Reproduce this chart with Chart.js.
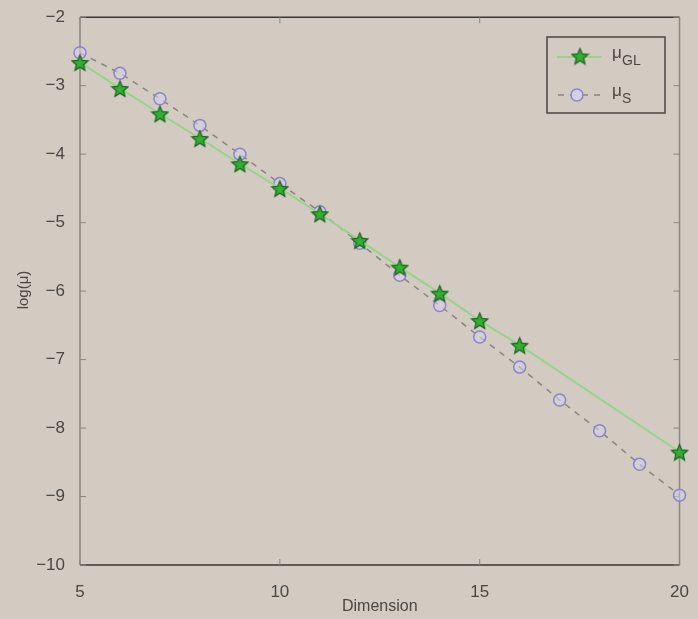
<!DOCTYPE html>
<html>
<head>
<meta charset="utf-8">
<script src="https://cdn.jsdelivr.net/npm/chart.js@4"></script>
<style>
  html, body { margin: 0; padding: 0; background: #d3cbc1; }
  #wrap { width: 698px; height: 619px; }
</style>
</head>
<body>
<div id="wrap"><canvas id="c" width="698" height="619"></canvas></div>
<script>
// ---- data ----
const glDims   = [5, 6, 7, 8, 9, 10, 11, 12, 13, 14, 15, 16, 20];
const glValues = [-2.66, -3.04, -3.41, -3.77, -4.14, -4.50, -4.87, -5.26, -5.65, -6.03, -6.43, -6.79, -8.35];
const sDims    = [5, 6, 7, 8, 9, 10, 11, 12, 13, 14, 15, 16, 17, 18, 19, 20];
const sValues  = [-2.52, -2.82, -3.19, -3.58, -4.00, -4.43, -4.84, -5.30, -5.77, -6.21, -6.67, -7.11, -7.59, -8.04, -8.53, -8.98];
const xTicks = [5, 10, 15, 20];
const yTicks = [-10, -9, -8, -7, -6, -5, -4, -3, -2];
const seriesNames = ['GL', 'S'];

const BG = '#d3cbc1';
const TXT = '#4a4642';

function makeStar(size, fill, stroke) {
  const c = document.createElement('canvas');
  c.width = size; c.height = size;
  const ctx = c.getContext('2d');
  const cx = size / 2, cy = size / 2 + 1, R = size / 2 - 1, r = R * 0.45;
  ctx.beginPath();
  for (let i = 0; i < 10; i++) {
    const ang = -Math.PI / 2 + i * Math.PI / 5;
    const rad = i % 2 === 0 ? R : r;
    const x = cx + rad * Math.cos(ang), y = cy + rad * Math.sin(ang);
    i === 0 ? ctx.moveTo(x, y) : ctx.lineTo(x, y);
  }
  ctx.closePath();
  ctx.fillStyle = fill; ctx.fill();
  ctx.lineWidth = 1.2; ctx.strokeStyle = stroke; ctx.stroke();
  return c;
}
const starImg = makeStar(19, '#2fb02f', '#1f5f1f');

const glColor = 'rgb(150,212,140)';
const sLine = '#8a8580';
const sMarker = '#8a84cc';

const decorPlugin = {
  id: 'decor',
  beforeDraw(chart) {
    const ctx = chart.ctx;
    ctx.save();
    ctx.fillStyle = BG;
    ctx.fillRect(0, 0, chart.width, chart.height);
    ctx.restore();
  },
  beforeDatasetsDraw(chart) {
    const ctx = chart.ctx;
    const a = chart.chartArea;
    const xs = chart.scales.x, ys = chart.scales.y;
    ctx.save();
    ctx.lineWidth = 1.5;
    ctx.strokeStyle = '#8c8782';
    ctx.beginPath();
    ctx.moveTo(a.left, a.top); ctx.lineTo(a.left, a.bottom);
    ctx.moveTo(a.right, a.top); ctx.lineTo(a.right, a.bottom);
    ctx.stroke();
    ctx.strokeStyle = '#3a3633';
    ctx.beginPath();
    ctx.moveTo(a.left, a.top); ctx.lineTo(a.right, a.top);
    ctx.moveTo(a.left, a.bottom); ctx.lineTo(a.right, a.bottom);
    ctx.stroke();
    ctx.lineWidth = 1;
    ctx.strokeStyle = '#8c8782';
    ctx.beginPath();
    xTicks.forEach(v => {
      const px = xs.getPixelForValue(v);
      ctx.moveTo(px, a.bottom); ctx.lineTo(px, a.bottom - 6);
      ctx.moveTo(px, a.top); ctx.lineTo(px, a.top + 6);
    });
    yTicks.forEach(v => {
      const py = ys.getPixelForValue(v);
      ctx.moveTo(a.left, py); ctx.lineTo(a.left + 6, py);
      ctx.moveTo(a.right, py); ctx.lineTo(a.right - 6, py);
    });
    ctx.stroke();
    ctx.restore();
  },
  afterDraw(chart) {
    const ctx = chart.ctx;
    const a = chart.chartArea;
    ctx.save();
    // axis titles
    ctx.fillStyle = TXT;
    ctx.font = '16px "Liberation Sans", Arial, sans-serif';
    ctx.textAlign = 'center';
    ctx.textBaseline = 'middle';
    ctx.fillText('Dimension', (a.left + a.right) / 2, 607);
    ctx.save();
    ctx.translate(24, 290);
    ctx.rotate(-Math.PI / 2);
    ctx.font = '15px "Liberation Sans", Arial, sans-serif';
    ctx.fillText('log(\u03bc)', 0, 0);
    ctx.restore();

    // legend
    const lx = 547, ly = 37, lw = 118, lh = 76;
    ctx.fillStyle = BG;
    ctx.fillRect(lx, ly, lw, lh);
    ctx.lineWidth = 1.5;
    ctx.strokeStyle = '#4a4642';
    ctx.strokeRect(lx, ly, lw, lh);
    const y1 = 57;
    ctx.lineWidth = 2;
    ctx.strokeStyle = glColor;
    ctx.beginPath(); ctx.moveTo(557, y1); ctx.lineTo(602, y1); ctx.stroke();
    ctx.drawImage(starImg, 580 - 9.5, y1 - 10.5);
    const y2 = 95;
    ctx.lineWidth = 1.5;
    ctx.strokeStyle = sLine;
    ctx.setLineDash([6, 6]);
    ctx.beginPath(); ctx.moveTo(558, y2); ctx.lineTo(600, y2); ctx.stroke();
    ctx.setLineDash([]);
    ctx.beginPath(); ctx.arc(577, y2, 6, 0, Math.PI * 2);
    ctx.fillStyle = 'rgba(215,210,235,0.9)'; ctx.fill();
    ctx.strokeStyle = sMarker; ctx.stroke();
    ctx.fillStyle = TXT;
    ctx.textAlign = 'left';
    ctx.textBaseline = 'alphabetic';
    [[y1, seriesNames[0]], [y2, seriesNames[1]]].forEach(([yy, sub]) => {
      ctx.font = '17px "Liberation Sans", Arial, sans-serif';
      ctx.fillText('\u03bc', 612, yy + 1);
      ctx.font = '14px "Liberation Sans", Arial, sans-serif';
      ctx.fillText(sub, 622, yy + 8);
    });
    ctx.restore();
  }
};

const fmt = v => (v < 0 ? '\u2212' + Math.abs(v) : String(v));

new Chart(document.getElementById('c'), {
  type: 'line',
  data: {
    datasets: [
      {
        label: '\u03bcGL',
        data: glDims.map((d, i) => ({ x: d, y: glValues[i] })),
        borderColor: glColor,
        borderWidth: 2,
        pointStyle: starImg,
        pointRadius: 9,
        tension: 0,
        fill: false,
        clip: false,
        order: 1
      },
      {
        label: '\u03bcS',
        data: sDims.map((d, i) => ({ x: d, y: sValues[i] })),
        borderColor: sLine,
        borderWidth: 1.5,
        borderDash: [6, 6],
        pointStyle: 'circle',
        pointRadius: 6,
        pointBorderWidth: 1.5,
        pointBorderColor: sMarker,
        pointBackgroundColor: 'rgba(215,210,235,0.55)',
        tension: 0,
        fill: false,
        clip: false,
        order: 2
      }
    ]
  },
  options: {
    responsive: false,
    animation: false,
    events: [],
    layout: { padding: { top: 17, right: 16, left: 0, bottom: 0 } },
    plugins: { legend: { display: false }, tooltip: { enabled: false } },
    scales: {
      x: {
        type: 'linear',
        min: 5, max: 20,
        afterBuildTicks: s => { s.ticks = xTicks.map(v => ({ value: v })); },
        afterFit: s => { s.height = 54; },
        grid: { display: false },
        border: { display: false },
        ticks: {
          padding: 9,
          color: TXT,
          font: { family: '"Liberation Sans", Arial, sans-serif', size: 17 },
          callback: v => fmt(v),
          maxRotation: 0
        }
      },
      y: {
        type: 'linear',
        min: -10, max: -2,
        afterBuildTicks: s => { s.ticks = yTicks.map(v => ({ value: v })); },
        afterFit: s => { s.width = 80; },
        grid: { display: false },
        border: { display: false },
        ticks: {
          padding: 7,
          color: TXT,
          font: { family: '"Liberation Sans", Arial, sans-serif', size: 17 },
          callback: v => fmt(v)
        }
      }
    }
  },
  plugins: [decorPlugin]
});
</script>
</body>
</html>
